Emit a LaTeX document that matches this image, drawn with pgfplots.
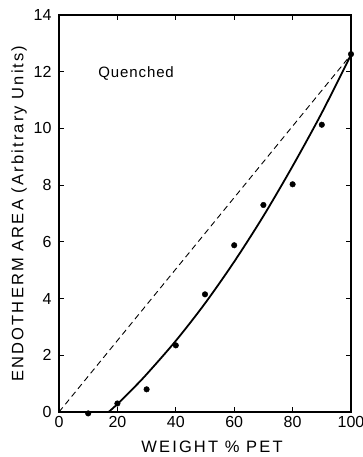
\documentclass[border=0pt]{standalone}
\usepackage{fontspec}
\setmainfont{Liberation Sans}
\newfontfamily\labfont[LetterSpace=13]{Liberation Sans}
\newfontfamily\notefont[LetterSpace=6]{Liberation Sans}
\usepackage{pgfplots}
\pgfplotsset{compat=1.18}
\begin{document}
\begin{tikzpicture}
\begin{axis}[
  scale only axis,
  width=292pt, height=397pt,
  xmin=0, xmax=100, ymin=0, ymax=14,
  xtick={0,20,...,100}, ytick={0,2,...,14},
  tick align=inside,
  major tick length=5pt,
  axis line style={line width=1.1pt},
  every tick/.style={line width=0.9pt, black},
  /pgf/number format/assume math mode=true,
  ticklabel style={font=\fontsize{16}{16}\selectfont},
  yticklabel style={xshift=-4pt},
  xticklabel style={yshift=-1pt},
  xlabel={WEIGHT \% PET},
  ylabel={ENDOTHERM AREA (Arbitrary Units)},
  xlabel style={font=\labfont\fontsize{16.5}{16.5}\selectfont,
    at={(axis description cs:0.524,0)}, anchor=base, yshift=-40pt},
  ylabel style={font=\labfont\fontsize{16.5}{16.5}\selectfont,
    at={(axis description cs:-0.137,0.5)}, anchor=center},
  clip=false,
]
% ideal (additive) line
\addplot[black, line width=0.9pt, dash pattern=on 6pt off 4pt]
  coordinates {(0,0) (100,12.6)};
% fitted curve
\addplot[black, line width=1.8pt, smooth]
  coordinates {(17,0) (20,0.28) (25,0.79) (30,1.33) (40,2.51) (50,3.83)
               (60,5.30) (70,6.91) (80,8.67) (90,10.55) (100,12.60)};
% measured endotherm areas
\addplot[black, only marks, mark=*, mark size=2.8pt]
  coordinates {(10,-0.05) (20,0.3) (30,0.8) (40,2.35) (50,4.15) (60,5.88)
               (70,7.3) (80,8.03) (90,10.13) (100,12.62)};
\node[anchor=base west, inner sep=0pt, font=\notefont\fontsize{15}{15}\selectfont]
  at (axis cs:13.4,11.81) {Quenched};
\end{axis}
\pgfresetboundingbox
\useasboundingbox ([shift={(-59pt,-45pt)}]current axis.south west)
  rectangle ([shift={(12pt,15pt)}]current axis.north east);
\end{tikzpicture}
\end{document}
